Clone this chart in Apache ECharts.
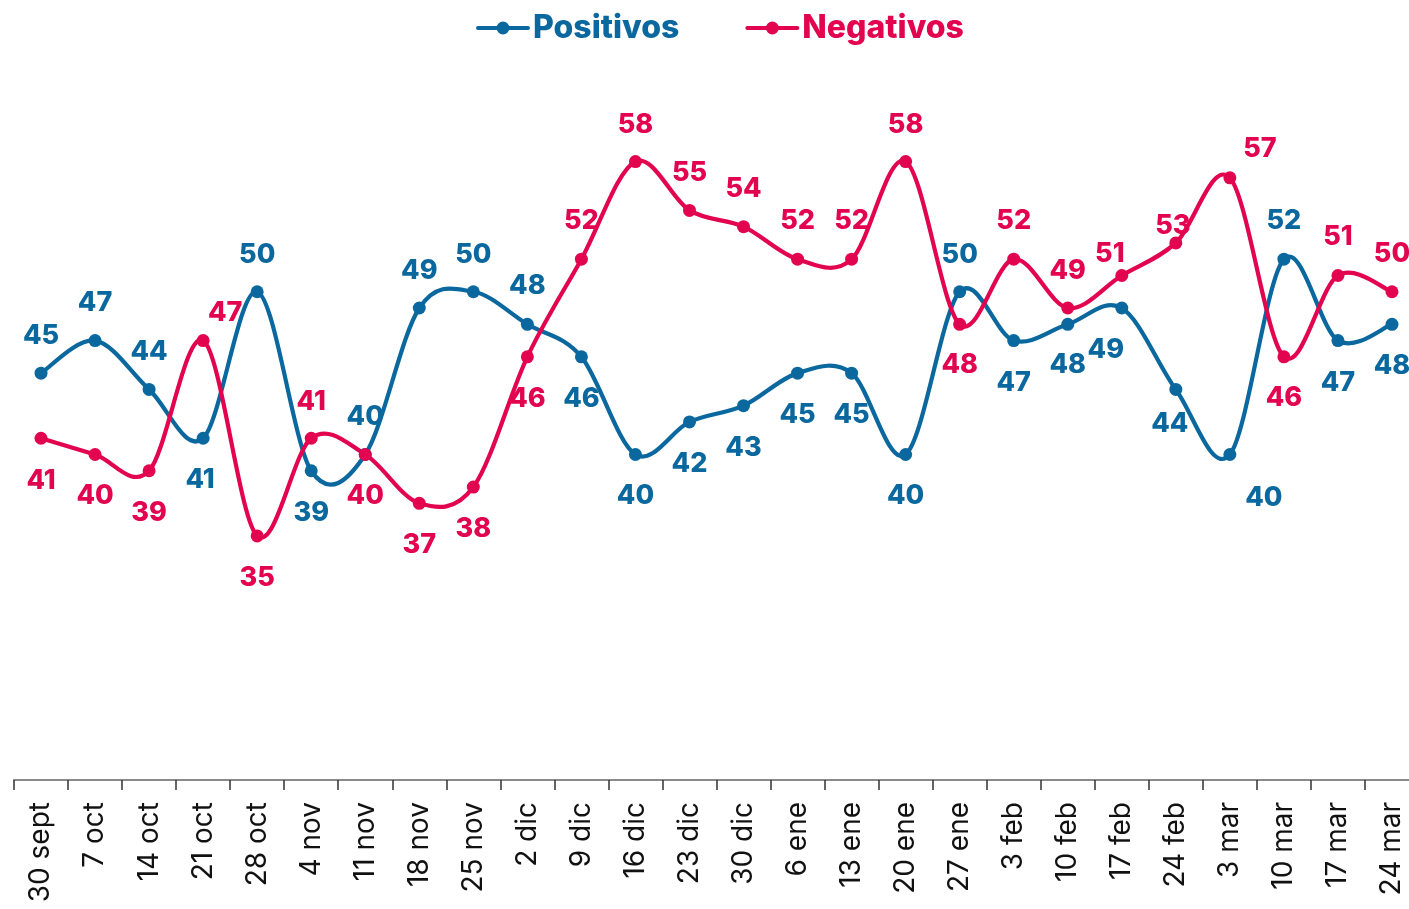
<!DOCTYPE html>
<html>
<head>
<meta charset="utf-8">
<script src="https://cdn.jsdelivr.net/npm/echarts@6/dist/echarts.min.js"></script>
<style>
html,body{margin:0;padding:0;background:#fff;overflow:hidden;}
#chart{width:1420px;height:909px;}
</style>
</head>
<body>
<div id="chart"></div>
<script>
const categories = ['30 sept','7 oct','14 oct','21 oct','28 oct','4 nov','11 nov','18 nov','25 nov','2 dic','9 dic','16 dic','23 dic','30 dic','6 ene','13 ene','20 ene','27 ene','3 feb','10 feb','17 feb','24 feb','3 mar','10 mar','17 mar','24 mar'];
const positivos = [45,47,44,41,50,39,40,49,50,48,46,40,42,43,45,45,40,50,47,48,49,44,40,52,47,48];
const negativos = [41,40,39,47,35,41,40,37,38,46,52,58,55,54,52,52,58,48,52,49,51,53,57,46,51,50];

// label offsets (label centre relative to marker centre, px)
const posLabelOffsets = [[0,-37],[0,-38],[0,-38],[-3,42],[0,-37],[0,42],[0,-38],[0,-37],[0,-37],[0,-38],[0,42],[0,41],[0,42],[0,42],[0,42],[0,42],[0,41],[0,-37],[0,42],[0,41],[-16,42],[-6,34],[34,43],[0,-38],[0,42],[0,42]];
const negLabelOffsets = [[0,43],[0,41],[0,42],[22,-28],[0,42],[0,-36],[0,41],[0,42],[0,42],[0,42],[0,-38],[0,-37],[0,-38],[0,-38],[0,-38],[0,-38],[0,-37],[0,41],[0,-38],[0,-37],[-12,-22],[-3,-17],[30,-29],[0,41],[0,-39],[0,-38]];

const BLUE = '#0b689e';
const RED = '#e3044f';
const FONT = 'Inter, "Noto Sans", sans-serif';

function curveSeries(name, values, color) {
  return {
    name: name,
    type: 'custom',
    coordinateSystem: 'cartesian2d',
    data: [[0, values[0]]],
    encode: { x: 0, y: 1 },
    silent: true,
    clip: false,
    z: 2,
    renderItem: function (params, api) {
      const pts = values.map(function (v, i) { return api.coord([i, v]); });
      let d = 'M' + pts[0][0] + ',' + pts[0][1];
      const n = pts.length;
      for (let i = 0; i < n - 1; i++) {
        const p0 = pts[Math.max(i - 1, 0)], p1 = pts[i], p2 = pts[i + 1], p3 = pts[Math.min(i + 2, n - 1)];
        const c1x = p1[0] + (p2[0] - p0[0]) / 6, c1y = p1[1] + (p2[1] - p0[1]) / 6;
        const c2x = p2[0] - (p3[0] - p1[0]) / 6, c2y = p2[1] - (p3[1] - p1[1]) / 6;
        d += ' C' + c1x + ',' + c1y + ' ' + c2x + ',' + c2y + ' ' + p2[0] + ',' + p2[1];
      }
      return {
        type: 'path',
        shape: { pathData: d },
        style: { fill: 'none', stroke: color, lineWidth: 4.2, lineCap: 'round', lineJoin: 'round' }
      };
    }
  };
}

function markerSeries(name, values, offsets, color) {
  return {
    name: name,
    type: 'line',
    data: values.map(function (v, i) { return { value: v, label: { offset: offsets[i] } }; }),
    symbol: 'circle',
    symbolSize: 13,
    showAllSymbol: true,
    z: 3,
    lineStyle: { width: 0, opacity: 0 },
    itemStyle: { color: color },
    label: {
      show: true,
      position: 'inside',
      color: color,
      fontFamily: FONT,
      fontWeight: 800,
      fontSize: 27
    },
    emphasis: { disabled: true }
  };
}

const iconPath = 'path://M2,5 L52,5 A2,2 0 0 1 52,9 L2,9 A2,2 0 0 1 2,5 Z M27,0.5 A6.5,6.5 0 1 1 27,13.5 A6.5,6.5 0 1 1 27,0.5 Z';

const chart = echarts.init(document.getElementById('chart'), null, { renderer: 'canvas' });
chart.setOption({
  animation: false,
  backgroundColor: '#ffffff',
  legend: {
    top: 7,
    left: 471,
    itemWidth: 54,
    itemHeight: 13,
    itemGap: 66,
    textStyle: { fontFamily: FONT, fontWeight: 800, fontSize: 32, padding: [0, 0, 0, -2] },
    data: [
      { name: 'Positivos', icon: iconPath, itemStyle: { color: BLUE }, textStyle: { color: BLUE } },
      { name: 'Negativos', icon: iconPath, itemStyle: { color: RED }, textStyle: { color: RED } }
    ]
  },
  grid: { left: 14, top: 129, width: 1405, height: 651, containLabel: false },
  xAxis: {
    type: 'category',
    data: categories,
    boundaryGap: true,
    axisLine: { show: true, lineStyle: { color: '#8a8a8a', width: 2 } },
    axisTick: { show: true, length: 10, lineStyle: { color: '#333333', width: 1.5 } },
    axisLabel: {
      rotate: 90,
      interval: 0,
      margin: 22,
      color: '#111111',
      fontFamily: FONT,
      fontSize: 28
    }
  },
  yAxis: {
    type: 'value',
    min: 20,
    max: 60,
    show: false,
    splitLine: { show: false }
  },
  series: [
    curveSeries('Positivos', positivos, BLUE),
    curveSeries('Negativos', negativos, RED),
    markerSeries('Positivos', positivos, posLabelOffsets, BLUE),
    markerSeries('Negativos', negativos, negLabelOffsets, RED)
  ]
});
</script>
</body>
</html>
